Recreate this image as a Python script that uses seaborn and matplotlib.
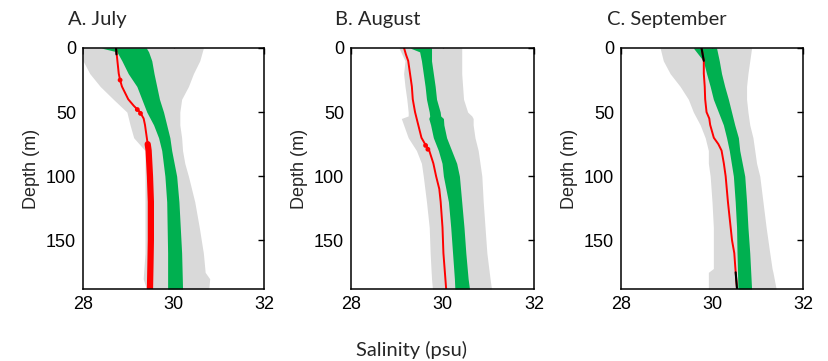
import numpy as np
import pandas as pd
import matplotlib
matplotlib.use("Agg")
import matplotlib.pyplot as plt
import seaborn as sns

# ---------------- data ----------------
titles = ["A. July", "B. August", "C. September"]
xticks = [28, 30, 32]
yticks = [0, 50, 100, 150]

# Panel A (July)
a_gray_depth = [0, 10, 20, 30, 40, 50, 60, 70, 80, 90, 100, 120, 140, 160, 175, 180, 188]
a_gray_lo = [28.00, 28.00, 28.15, 28.38, 28.67, 28.97, 29.04, 29.12, 29.37, 29.37, 29.37, 29.37, 29.37, 29.37, 29.34, 29.33, 29.40]
a_gray_hi = [30.66, 30.58, 30.44, 30.33, 30.18, 30.14, 30.14, 30.18, 30.20, 30.25, 30.33, 30.47, 30.57, 30.66, 30.70, 30.80, 30.78]
a_green_depth = [0, 3, 10, 20, 30, 40, 50, 60, 70, 80, 100, 120, 140, 160, 188]
a_green_lo = [28.40, 28.75, 28.86, 29.00, 29.19, 29.30, 29.41, 29.56, 29.67, 29.74, 29.81, 29.85, 29.86, 29.87, 29.87]
a_green_hi = [29.40, 29.45, 29.52, 29.57, 29.63, 29.69, 29.78, 29.85, 29.92, 29.96, 30.07, 30.12, 30.15, 30.18, 30.20]
a_red_thin_depth = [0, 10, 20, 25, 30, 40, 45, 50, 55, 60, 70, 75]
a_red_thin_sal = [28.73, 28.76, 28.79, 28.82, 28.86, 29.00, 29.12, 29.26, 29.34, 29.37, 29.41, 29.43]
a_red_thick_depth = [75, 80, 100, 120, 150, 170, 188]
a_red_thick_sal = [29.43, 29.45, 29.48, 29.50, 29.50, 29.49, 29.48]
a_black_depth = [0, 5]
a_black_sal = [28.73, 28.74]
a_blob_depth = [25, 48, 51]
a_blob_sal = [28.82, 29.20, 29.27]

# Panel B (August)
b_gray_depth = [0, 10, 20, 30, 40, 50, 53, 55, 60, 70, 80, 90, 100, 120, 140, 160, 180, 188]
b_gray_lo = [29.05, 29.18, 29.15, 29.18, 29.22, 29.25, 29.25, 29.10, 29.15, 29.25, 29.43, 29.54, 29.58, 29.65, 29.71, 29.73, 29.76, 29.78]
b_gray_hi = [30.42, 30.42, 30.42, 30.44, 30.46, 30.55, 30.64, 30.67, 30.67, 30.71, 30.78, 30.82, 30.86, 30.89, 30.93, 30.97, 31.04, 31.07]
b_green_depth = [0, 3, 10, 20, 30, 40, 50, 53, 55, 60, 70, 80, 90, 100, 120, 140, 160, 180, 188]
b_green_lo = [29.29, 29.50, 29.54, 29.58, 29.62, 29.65, 29.71, 29.72, 29.70, 29.74, 29.80, 29.91, 29.99, 30.02, 30.13, 30.18, 30.22, 30.26, 30.27]
b_green_hi = [29.76, 29.76, 29.76, 29.80, 29.84, 29.87, 29.95, 29.96, 30.02, 30.03, 30.09, 30.20, 30.31, 30.37, 30.42, 30.47, 30.51, 30.56, 30.59]
b_red_depth = [0, 5, 10, 20, 30, 40, 50, 60, 70, 75, 80, 90, 100, 110, 120, 140, 160, 188]
b_red_sal = [29.16, 29.20, 29.25, 29.29, 29.33, 29.35, 29.40, 29.47, 29.54, 29.62, 29.71, 29.80, 29.86, 29.93, 29.96, 30.00, 30.02, 30.08]
b_blob_depth = [76, 79]
b_blob_sal = [29.63, 29.68]

# Panel C (September)
c_gray_depth = [0, 10, 20, 30, 40, 50, 60, 70, 80, 90, 100, 120, 140, 160, 172, 175, 188]
c_gray_lo = [28.86, 28.93, 29.08, 29.30, 29.48, 29.59, 29.74, 29.85, 29.92, 29.92, 29.96, 30.00, 30.03, 30.03, 30.03, 29.92, 29.92]
c_gray_hi = [30.87, 30.83, 30.79, 30.76, 30.76, 30.79, 30.83, 30.90, 30.94, 30.98, 31.05, 31.12, 31.19, 31.27, 31.32, 31.34, 31.41]
c_green_depth = [0, 5, 10, 20, 30, 40, 50, 60, 70, 80, 100, 120, 140, 160, 188]
c_green_lo = [29.59, 29.70, 29.81, 29.88, 29.96, 30.03, 30.14, 30.25, 30.32, 30.38, 30.47, 30.51, 30.54, 30.55, 30.57]
c_green_hi = [30.10, 30.13, 30.16, 30.21, 30.28, 30.36, 30.43, 30.50, 30.58, 30.61, 30.72, 30.76, 30.79, 30.83, 30.87]
c_red_depth = [0, 10, 20, 30, 40, 50, 55, 60, 65, 70, 75, 80, 90, 100, 120, 140, 150, 160, 170, 188]
c_red_sal = [29.77, 29.82, 29.82, 29.84, 29.85, 29.88, 29.94, 29.96, 30.00, 30.04, 30.14, 30.21, 30.26, 30.30, 30.35, 30.41, 30.44, 30.49, 30.51, 30.55]
c_black_top_depth = [0, 10]
c_black_top_sal = [29.77, 29.82]
c_black_bot_depth = [175, 188]
c_black_bot_sal = [30.52, 30.55]

GRAY = "#d9d9d9"
GREEN = "#00b050"
RED = "#ff0000"

panels = [
    dict(gray=(a_gray_depth, a_gray_lo, a_gray_hi),
         green=(a_green_depth, a_green_lo, a_green_hi),
         red=[(a_red_thin_depth, a_red_thin_sal, 1.4), (a_red_thick_depth, a_red_thick_sal, 4.5)],
         black=[(a_black_depth, a_black_sal)],
         blob=(a_blob_depth, a_blob_sal)),
    dict(gray=(b_gray_depth, b_gray_lo, b_gray_hi),
         green=(b_green_depth, b_green_lo, b_green_hi),
         red=[(b_red_depth, b_red_sal, 1.4)],
         black=[],
         blob=(b_blob_depth, b_blob_sal)),
    dict(gray=(c_gray_depth, c_gray_lo, c_gray_hi),
         green=(c_green_depth, c_green_lo, c_green_hi),
         red=[(c_red_depth, c_red_sal, 1.4)],
         black=[(c_black_top_depth, c_black_top_sal), (c_black_bot_depth, c_black_bot_sal)],
         blob=None),
]

# ---------------- figure ----------------
sns.set_style("white")
plt.rcParams["font.family"] = ["Liberation Sans", "DejaVu Sans"]

W, H = 829, 361
fig = plt.figure(figsize=(W / 100, H / 100), dpi=100)

lefts = [83, 351, 621]
widths = [181, 183, 182]
top_px, bot_px = 48, 289
title_x = [68, 335, 607]

for i, p in enumerate(panels):
    ax = fig.add_axes([lefts[i] / W, 1 - bot_px / H, widths[i] / W, (bot_px - top_px) / H])
    gd, glo, ghi = p["gray"]
    ax.fill_betweenx(gd, glo, ghi, color=GRAY, lw=0, zorder=1)
    nd, nlo, nhi = p["green"]
    ax.fill_betweenx(nd, nlo, nhi, color=GREEN, lw=0, zorder=2)
    for d, s, lw in p["red"]:
        df = pd.DataFrame({"depth": d, "sal": s})
        sns.lineplot(data=df, x="sal", y="depth", orient="y", color=RED, lw=lw,
                     ax=ax, zorder=3, sort=False, estimator=None)
    if p["blob"] is not None:
        bdf = pd.DataFrame({"depth": p["blob"][0], "sal": p["blob"][1]})
        sns.scatterplot(data=bdf, x="sal", y="depth", color=RED, s=12, marker="o",
                        edgecolor="none", ax=ax, zorder=4)
    for d, s in p["black"]:
        df = pd.DataFrame({"depth": d, "sal": s})
        sns.lineplot(data=df, x="sal", y="depth", orient="y", color="black", lw=1.5,
                     ax=ax, zorder=5, sort=False, estimator=None)

    ax.set_xlim(28, 32)
    ax.set_ylim(188, 0)
    ax.set_xticks(xticks)
    ax.set_yticks(yticks)
    ax.set_xlabel("")
    ax.set_ylabel("Depth (m)", fontsize=13, labelpad=4)
    ax.tick_params(direction="in", length=4, width=1, top=True, right=True,
                   labelsize=13, colors="black", pad=5)
    for sp in ax.spines.values():
        sp.set_visible(True)
        sp.set_color("black")
        sp.set_linewidth(1.1)
        sp.set_zorder(10)
    ax.set_facecolor("white")
    fig.text(title_x[i] / W, 1 - 20 / H, titles[i], fontsize=14.5, family=["Lato", "DejaVu Sans"],
             ha="left", va="center")

fig.text(412 / W, 1 - 350 / H, "Salinity (psu)", fontsize=14.5, family=["Lato", "DejaVu Sans"],
         ha="center", va="center")

fig.savefig("out.png", dpi=100, facecolor="white")
